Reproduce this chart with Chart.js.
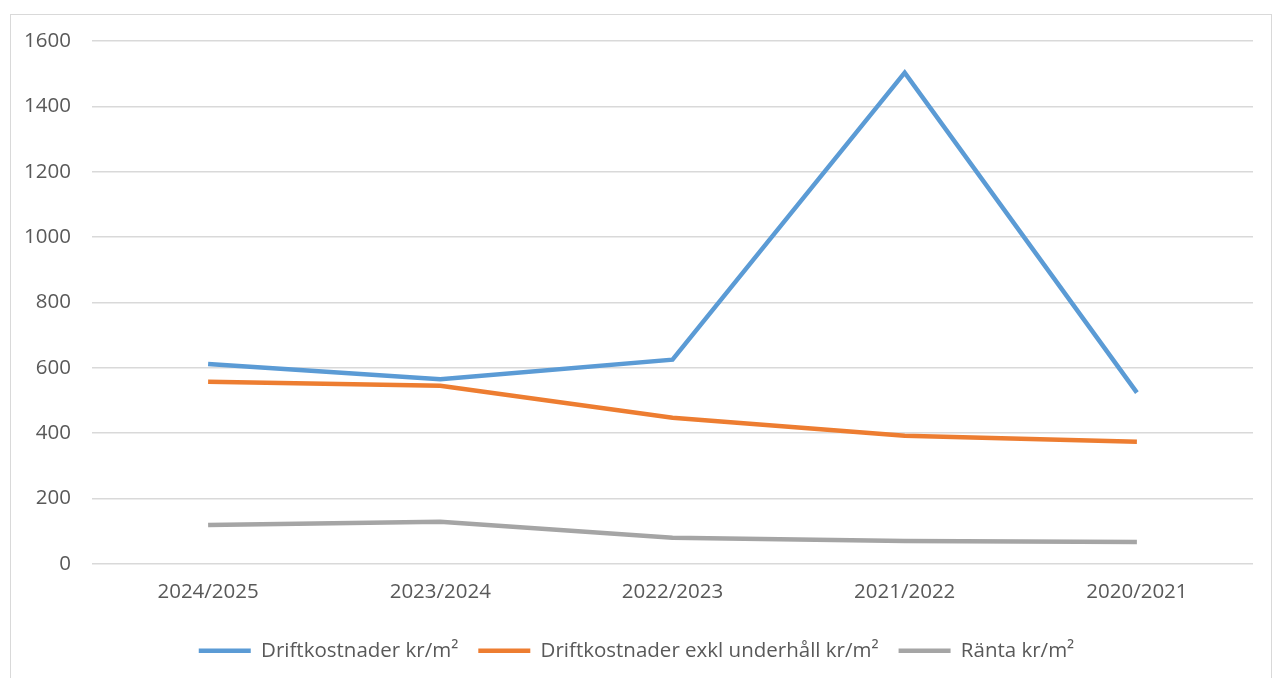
<!DOCTYPE html>
<html>
<head>
<meta charset="utf-8">
<script src="https://cdn.jsdelivr.net/npm/chart.js@4"></script>
<style>
  html, body { margin: 0; padding: 0; background: #fff; overflow: hidden; }
  #frame { position: absolute; left: 10px; top: 14px; width: 1262px; height: 680px; border: 1px solid #d9d9d9; box-sizing: border-box; }
  #wrap { position: absolute; left: 0; top: 0; width: 1273px; height: 678px; }
</style>
</head>
<body>
<div id="frame"></div>
<div id="wrap"><canvas id="chart"></canvas></div>
<script>
const years = ['2024/2025', '2023/2024', '2022/2023', '2021/2022', '2020/2021'];
const driftkostnader = [612, 565, 625, 1503, 524];
const driftExklUnderhall = [557, 545, 447, 392, 374];
const ranta = [119, 129, 80, 70, 67];
const yTicks = [0, 200, 400, 600, 800, 1000, 1200, 1400, 1600];

const textColor = '#595959';
const gridColor = '#d9d9d9';
const fontFamily = '"Open Sans", Lato, sans-serif';

function lineSet(label, data, color) {
  return {
    label: label,
    data: data,
    borderColor: color,
    backgroundColor: color,
    borderWidth: 4.5,
    pointRadius: 0,
    tension: 0,
    fill: false,
  };
}

const chart = new Chart(document.getElementById('chart'), {
  type: 'line',
  data: {
    labels: years,
    datasets: [
      lineSet('Driftkostnader kr/m²', driftkostnader, '#5b9bd5'),
      lineSet('Driftkostnader exkl underhåll kr/m²', driftExklUnderhall, '#ed7d31'),
      lineSet('Ränta kr/m²', ranta, '#a5a5a5'),
    ],
  },
  options: {
    responsive: true,
    maintainAspectRatio: false,
    animation: false,
    layout: { padding: { left: 20, right: 20, top: 41, bottom: 7 } },
    plugins: {
      tooltip: { enabled: false },
      legend: {
        position: 'bottom',
        labels: {
          color: textColor,
          font: { family: fontFamily, size: 20.5 },
          usePointStyle: true,
          pointStyle: 'line',
          pointStyleWidth: 52,
          boxHeight: 4,
          padding: 20,
        },
      },
    },
    scales: {
      x: {
        offset: true,
        grid: { display: false },
        border: { display: false },
        afterFit: (scale) => { scale.height += 8; },
        ticks: { color: textColor, font: { family: fontFamily, size: 20.5 }, padding: 8 },
      },
      y: {
        min: 0,
        max: 1600,
        afterBuildTicks: (scale) => { scale.ticks = yTicks.map((v) => ({ value: v })); },
        afterFit: (scale) => { scale.width = 72; },
        grid: { color: gridColor, lineWidth: 1.5, drawTicks: false },
        border: { display: false },
        ticks: {
          color: textColor,
          font: { family: fontFamily, size: 20.5 },
          padding: 21,
          callback: (value) => String(value),
        },
      },
    },
  },
});
</script>
</body>
</html>
